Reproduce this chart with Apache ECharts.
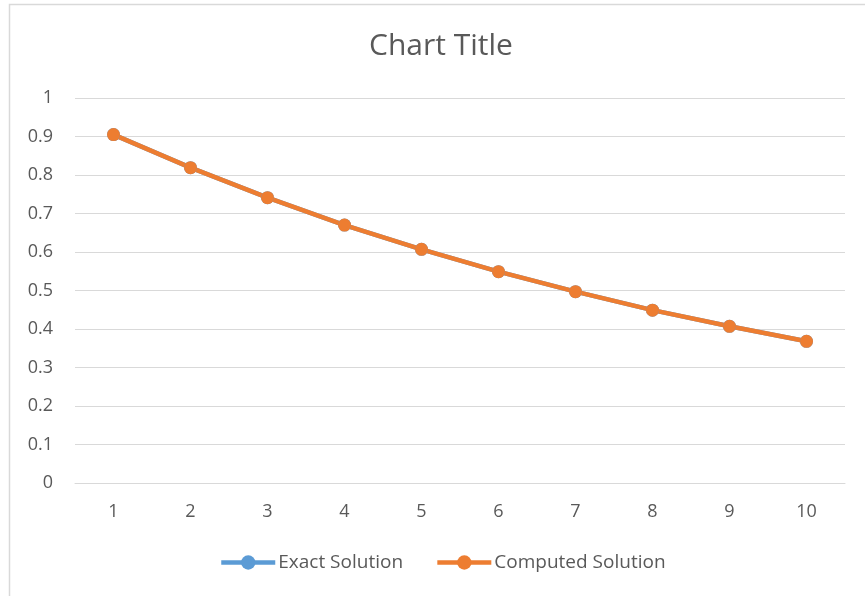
<!DOCTYPE html>
<html>
<head>
<meta charset="utf-8">
<script src="https://cdn.jsdelivr.net/npm/echarts@6/dist/echarts.min.js"></script>
<style>
  html, body { margin: 0; padding: 0; background: #fff; }
  #chart { width: 865px; height: 596px; }
</style>
</head>
<body>
<div id="chart"></div>
<script>
// x values (step number)
var steps = ['1', '2', '3', '4', '5', '6', '7', '8', '9', '10'];
// exact solution values
var exactSolution = [0.905, 0.819, 0.741, 0.670, 0.607, 0.549, 0.497, 0.449, 0.407, 0.368];
// computed solution values
var computedSolution = [0.905, 0.819, 0.741, 0.670, 0.607, 0.549, 0.497, 0.449, 0.407, 0.368];

var FONT = '"Open Sans", "Liberation Sans", sans-serif';
var TEXT = '#595959';
var GRID = '#d9d9d9';

var chart = echarts.init(document.getElementById('chart'), null, { renderer: 'canvas' });

chart.setOption({
  backgroundColor: '#ffffff',
  animation: false,
  graphic: [
    {
      type: 'rect',
      shape: { x: 9.5, y: 4.5, width: 900, height: 700 },
      style: { fill: 'none', stroke: GRID, lineWidth: 1.5 },
      silent: true,
      z: -10
    },
    {
      type: 'text',
      x: 441,
      y: 46,
      style: {
        text: 'Chart Title',
        fill: TEXT,
        font: '30px ' + FONT,
        textAlign: 'center',
        textVerticalAlign: 'middle'
      },
      silent: true
    }
  ],
  legend: {
    top: 548,
    left: 214,
    itemWidth: 54,
    itemHeight: 18,
    itemGap: 32,
    lineStyle: { width: 4.5 },
    textStyle: { fontFamily: FONT, fontSize: 19, color: TEXT, padding: [0, 0, 0, -2] },
    data: ['Exact Solution', 'Computed Solution']
  },
  grid: { left: 75, right: 20, top: 98, bottom: 113, containLabel: false },
  xAxis: {
    type: 'category',
    data: steps,
    boundaryGap: true,
    axisLine: { show: true, lineStyle: { color: GRID, width: 1 } },
    axisTick: { show: false },
    axisLabel: { fontFamily: FONT, fontSize: 18, color: TEXT, margin: 20 }
  },
  yAxis: {
    type: 'value',
    min: 0,
    max: 1,
    interval: 0.1,
    axisLine: { show: false },
    axisTick: { show: false },
    splitLine: { lineStyle: { color: GRID, width: 1 } },
    axisLabel: {
      fontFamily: FONT, fontSize: 18, color: TEXT, margin: 22,
      formatter: function (v) { return String(Math.round(v * 10) / 10); }
    }
  },
  series: [
    {
      name: 'Exact Solution',
      type: 'line',
      data: exactSolution,
      symbol: 'circle',
      symbolSize: 13,
      color: '#5b9bd5',
      lineStyle: { width: 4.5, color: '#5b9bd5' },
      itemStyle: { color: '#5b9bd5' }
    },
    {
      name: 'Computed Solution',
      type: 'line',
      data: computedSolution,
      symbol: 'circle',
      symbolSize: 13,
      color: '#ed7d31',
      lineStyle: { width: 4.5, color: '#ed7d31' },
      itemStyle: { color: '#ed7d31' }
    }
  ]
});
</script>
</body>
</html>
